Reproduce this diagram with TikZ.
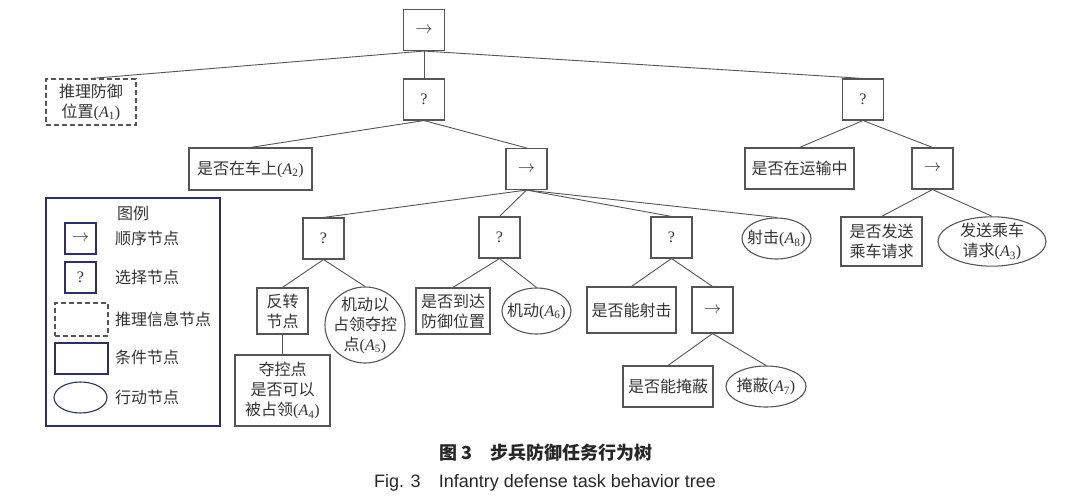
\documentclass[tikz,border=0pt]{standalone}
\usepackage{fontspec}
\setmainfont{Liberation Serif}
\newfontfamily\cjk{Noto Sans CJK SC}
\newfontfamily\capfont{Liberation Sans}
\usetikzlibrary{shapes.geometric}
\definecolor{linegray}{HTML}{555555}
\definecolor{txtgray}{HTML}{333333}
\definecolor{legnavy}{HTML}{30305E}
\newcommand{\Ai}[1]{{\rmfamily(\textit{A}\textsubscript{#1})}}
\tikzset{
  base/.style={draw=linegray,line width=1.1pt,inner sep=0pt,text=txtgray,
    font=\cjk\fontsize{16}{20}\selectfont,align=center},
  ctrl/.style={base,rectangle,minimum width=41,minimum height=41},
  cond/.style={base,rectangle},
  act/.style={base,ellipse,inner xsep=-5pt},
  info/.style={base,rectangle,dash pattern=on 5pt off 3pt},
  link/.style={draw=linegray,line width=0.9pt},
  legtext/.style={anchor=west,inner sep=0pt,text=txtgray,font=\cjk\fontsize{16}{20}\selectfont}
}

\begin{document}
\begin{tikzpicture}[x=1pt,y=-1pt]
    \useasboundingbox (0,0) rectangle (1080,497);

    % tree
    \node[ctrl] (root) at (424,30) {$\rightarrow$};
    \node[info,minimum width=90,minimum height=46] (a1) at (91,102) {推理防御\\位置\Ai{1}};
    \node[ctrl] (sel1) at (424,99.5) {\rmfamily ?};
    \node[ctrl] (selr) at (863,99.5) {\rmfamily ?};

    \node[cond,minimum width=123,minimum height=42] (a2) at (250.5,169) {是否在车上\Ai{2}};
    \node[ctrl] (seq2) at (526.5,169) {$\rightarrow$};
    \node[cond,minimum width=109,minimum height=41] (trans) at (799.5,168.5) {是否在运输中};
    \node[ctrl] (seq3) at (932.5,168.5) {$\rightarrow$};

    \node[ctrl] (sell) at (323.5,238.5) {\rmfamily ?};
    \node[ctrl] (selm) at (499.5,237.5) {\rmfamily ?};
    \node[ctrl] (sels) at (671.5,237.5) {\rmfamily ?};
    \node[act,minimum width=69,minimum height=41] (a8) at (776.5,238.5) {射击\Ai{8}};
    \node[cond,minimum width=81,minimum height=49] (req) at (881.5,241.5) {是否发送\\乘车请求};
    \node[act,minimum width=108,minimum height=49,inner ysep=-1pt] (a3) at (992,241.5) {发送乘车\\请求\Ai{3}};

    \node[cond,minimum width=51,minimum height=46] (inv) at (282.5,311) {反转\\节点};
    \node[act,minimum width=80,minimum height=76,inner ysep=-2pt] (a5) at (365,325) {机动以\\占领夺控\\点\Ai{5}};
    \node[cond,minimum width=95,minimum height=71] (a4) at (282.5,390.5) {夺控点\\是否可以\\被占领\Ai{4}};
    \node[cond,minimum width=74,minimum height=46] (arr) at (453,311) {是否到达\\防御位置};
    \node[act,minimum width=69,minimum height=46] (a6) at (536.5,311) {机动\Ai{6}};
    \node[cond,minimum width=89,minimum height=46] (fire) at (631.5,310) {是否能射击};
    \node[ctrl,minimum height=46] (seq4) at (712.5,310) {$\rightarrow$};
    \node[cond,minimum width=90,minimum height=41] (hide) at (668,386.5) {是否能掩蔽};
    \node[act,minimum width=80,minimum height=41] (a7) at (766,386.5) {掩蔽\Ai{7}};

    \foreach \p/\c in {root/a1,root/sel1,root/selr,sel1/a2,sel1/seq2,
        seq2/sell,seq2/selm,seq2/sels,seq2/a8,sell/inv,sell/a5,inv/a4,
        selm/arr,selm/a6,sels/fire,sels/seq4,seq4/hide,seq4/a7,
        selr/trans,selr/seq3,seq3/req,seq3/a3}
      \draw[link] (\p.south) -- (\c.north);

    % legend
    \node[draw=legnavy,line width=1.3pt,minimum width=174,minimum height=228] (legend) at (133,312) {};
    \node[legtext,anchor=center] (legtitle) at (133,213) {图例};
    \node[ctrl,draw=legnavy,minimum width=31,minimum height=31] (lseq) at (80.5,238.5) {$\rightarrow$};
    \node[ctrl,draw=legnavy,minimum width=31,minimum height=31] (lsel) at (80.5,277.5) {\rmfamily ?};
    \node[info,minimum width=53,minimum height=33] (linfo) at (81.5,319.5) {};
    \node[cond,draw=legnavy,minimum width=53,minimum height=31] (lcond) at (81.5,358.5) {};
    \node[act,draw=legnavy,minimum width=53,minimum height=31] (lact) at (80.5,397.5) {};
    \foreach \y/\t/\n in {238.5/顺序节点/tseq,277.5/选择节点/tsel,319/推理信息节点/tinfo,
        357.5/条件节点/tcond,397/行动节点/tact}
      \node[legtext] (\n) at (115,\y) {\t};

    % caption
    \node[font=\cjk\bfseries\fontsize{18}{20}\selectfont,text=black!85] (capcn) at (546,453) {图 3\quad 步兵防御任务行为树};
    \node[font=\capfont\fontsize{18}{20}\selectfont,text=black!85] (capen) at (545,483) {Fig. 3\quad Infantry defense task behavior tree};
\end{tikzpicture}
\end{document}
